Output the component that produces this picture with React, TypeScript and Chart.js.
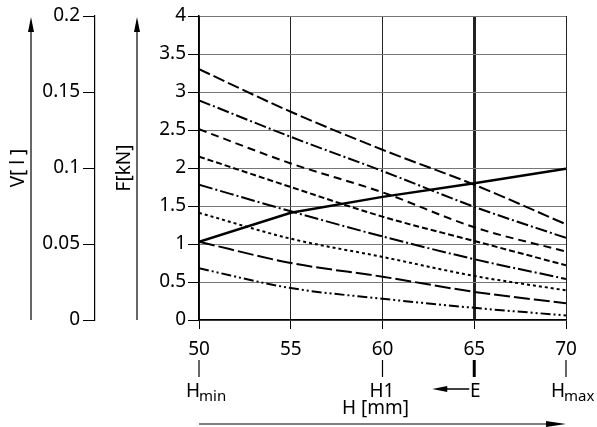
import React, { useEffect, useRef } from "react";
import { Chart, registerables } from "chart.js";

Chart.register(...registerables);

// Stroke H [mm]
const H_MM = [50, 55, 60, 65, 70];

// Force curves F [kN] (top to bottom)
const F_CURVE_1 = [3.3, 2.74, 2.24, 1.78, 1.26];
const F_CURVE_2 = [2.89, 2.41, 1.96, 1.49, 1.08];
const F_CURVE_3 = [2.51, 2.06, 1.68, 1.22, 0.9];
const F_CURVE_4 = [2.15, 1.75, 1.36, 1.04, 0.72];
const F_CURVE_5 = [1.78, 1.43, 1.1, 0.8, 0.54];
const F_CURVE_6 = [1.41, 1.07, 0.83, 0.58, 0.39];
const F_CURVE_7 = [1.03, 0.75, 0.57, 0.37, 0.22];
const F_CURVE_8 = [0.68, 0.42, 0.28, 0.16, 0.06];

// Solid rising line
const F_SOLID = [1.03, 1.41, 1.62, 1.8, 1.99];

// Axis ranges
const F_RANGE = [0, 4];
const V_RANGE = [0, 0.2];
const H_RANGE = [50, 70];

// Marker labels under the H axis
const MARK_VALUES = [50, 60, 65, 70];
const MARK_MAIN = ["H", "H1", "E", "H"];
const MARK_SUB = ["min", "", "", "max"];

const X_TITLE = "H [mm]";
const F_TITLE = "F[kN]";
const V_TITLE = "V[ l ]";

const FONT = '"Noto Sans", "DejaVu Sans", sans-serif';

const CURVES = [F_CURVE_1, F_CURVE_2, F_CURVE_3, F_CURVE_4, F_CURVE_5, F_CURVE_6, F_CURVE_7, F_CURVE_8];
const DASHES: number[][] = [
  [12, 4],
  [12, 3, 2, 3],
  [8, 5],
  [6, 3],
  [14, 3, 2, 3],
  [3, 3],
  [16, 4],
  [10, 3, 2, 3, 2, 3],
];

const fmt = (v: any) => String(Number(Number(v).toFixed(2)));

const extrasPlugin = {
  id: "extras",
  afterDraw(chart: any) {
    const { ctx } = chart;
    const xs = chart.scales.x;
    const ys = chart.scales.y;
    ctx.save();
    ctx.strokeStyle = "#000";
    ctx.fillStyle = "#000";

    // vertical arrows for V and F
    const yb = ys.getPixelForValue(F_RANGE[0]);
    const yt = ys.getPixelForValue(F_RANGE[1]) + 1;
    const upArrow = (x: number) => {
      ctx.lineWidth = 1.2;
      ctx.beginPath();
      ctx.moveTo(x, yb);
      ctx.lineTo(x, yt + 12);
      ctx.stroke();
      ctx.beginPath();
      ctx.moveTo(x, yt);
      ctx.lineTo(x - 3, yt + 15);
      ctx.lineTo(x + 3, yt + 15);
      ctx.closePath();
      ctx.fill();
    };
    upArrow(31);
    upArrow(137);

    // marker ticks and labels
    MARK_VALUES.forEach((v, i) => {
      const x = xs.getPixelForValue(v);
      const main = MARK_MAIN[i];
      ctx.lineWidth = main === "E" ? 3 : 1.2;
      ctx.beginPath();
      ctx.moveTo(x, 360);
      ctx.lineTo(x, 377);
      ctx.stroke();
      ctx.font = `19px ${FONT}`;
      ctx.textBaseline = "alphabetic";
      if (main === "E") {
        ctx.textAlign = "center";
        ctx.fillText(main, x + 1, 397);
        // arrow pointing left from E
        ctx.lineWidth = 1.5;
        ctx.beginPath();
        ctx.moveTo(x - 5, 389);
        ctx.lineTo(x - 28, 389);
        ctx.stroke();
        ctx.beginPath();
        ctx.moveTo(x - 42, 389);
        ctx.lineTo(x - 27, 386);
        ctx.lineTo(x - 27, 392);
        ctx.closePath();
        ctx.fill();
      } else {
        ctx.textAlign = "left";
        const tx = MARK_SUB[i] === "max" ? x - 15 : x - 13;
        ctx.fillText(main, tx, 397);
        const w = ctx.measureText(main).width;
        if (MARK_SUB[i]) {
          ctx.font = `15px ${FONT}`;
          ctx.fillText(MARK_SUB[i], tx + w - 1, 401);
        }
      }
    });

    // axis title H [mm]
    ctx.font = `19px ${FONT}`;
    ctx.textAlign = "center";
    ctx.textBaseline = "alphabetic";
    ctx.fillText(X_TITLE, xs.getPixelForValue(60) - 7, 414);

    // long arrow under H axis
    const xl = xs.getPixelForValue(H_RANGE[0]);
    const xr = xs.getPixelForValue(H_RANGE[1]);
    ctx.lineWidth = 1.2;
    ctx.beginPath();
    ctx.moveTo(xl, 424);
    ctx.lineTo(xr - 15, 424);
    ctx.stroke();
    ctx.beginPath();
    ctx.moveTo(xr, 424);
    ctx.lineTo(xr - 20, 421);
    ctx.lineTo(xr - 20, 427);
    ctx.closePath();
    ctx.fill();

    ctx.restore();
  },
};

export default function App() {
  const ref = useRef<HTMLCanvasElement | null>(null);

  useEffect(() => {
    if (!ref.current) return;
    const datasets: any[] = CURVES.map((c, i) => ({
      label: `F${i + 1}`,
      data: H_MM.map((h, j) => ({ x: h, y: c[j] })),
      borderColor: "#000",
      borderWidth: 2,
      borderDash: DASHES[i],
      pointRadius: 0,
      fill: false,
      cubicInterpolationMode: "monotone",
    }));
    datasets.push({
      label: "solid",
      data: H_MM.map((h, j) => ({ x: h, y: F_SOLID[j] })),
      borderColor: "#000",
      borderWidth: 2.5,
      pointRadius: 0,
      fill: false,
      tension: 0,
    });

    const chart = new Chart(ref.current, {
      type: "line",
      data: { datasets },
      plugins: [extrasPlugin],
      options: {
        animation: false,
        responsive: false,
        maintainAspectRatio: false,
        layout: { padding: { left: 0, right: 31, top: 16, bottom: 0 } },
        plugins: { legend: { display: false }, tooltip: { enabled: false } },
        scales: {
          x: {
            type: "linear",
            position: "bottom",
            min: H_RANGE[0],
            max: H_RANGE[1],
            afterFit: (s: any) => {
              s.height = 107;
            },
            ticks: {
              stepSize: 5,
              color: "#000",
              padding: 9,
              font: { family: FONT, size: 19 },
              callback: fmt,
            },
            grid: {
              color: "#222",
              lineWidth: (c: any) => (c.tick && c.tick.value === 65 ? 3 : 1),
              tickWidth: 1,
              tickLength: 9,
              tickColor: "#000",
            },
            border: { display: true, color: "#000", width: 1.5 },
          },
          y: {
            type: "linear",
            position: "left",
            weight: 0,
            min: F_RANGE[0],
            max: F_RANGE[1],
            afterFit: (s: any) => {
              s.width = 104;
            },
            ticks: {
              stepSize: 0.5,
              color: "#000",
              padding: 2,
              font: { family: FONT, size: 19 },
              callback: fmt,
            },
            grid: {
              color: "#777",
              lineWidth: 1,
              tickLength: 11,
              tickColor: "#000",
            },
            border: { display: true, color: "#000", width: 1.5 },
            title: {
              display: true,
              text: F_TITLE,
              color: "#000",
              font: { family: FONT, size: 19 },
              padding: { top: 18, bottom: 0 },
            },
          },
          v: {
            type: "linear",
            position: "left",
            weight: 10,
            min: V_RANGE[0],
            max: V_RANGE[1],
            afterFit: (s: any) => {
              s.width = 95;
            },
            ticks: {
              stepSize: 0.05,
              color: "#000",
              padding: 3,
              font: { family: FONT, size: 19 },
              callback: fmt,
            },
            grid: {
              drawOnChartArea: false,
              tickLength: 12,
              tickColor: "#000",
            },
            border: { display: true, color: "#000", width: 1.2 },
            title: {
              display: true,
              text: V_TITLE,
              color: "#000",
              font: { family: FONT, size: 19 },
              padding: { top: 7, bottom: 0 },
            },
          },
        },
      } as any,
    });
    return () => chart.destroy();
  }, []);

  return (
    <div style={{ position: "fixed", left: 0, top: 0, width: 597, height: 427, background: "#fff" }}>
      <canvas ref={ref} width={597} height={427} style={{ display: "block", width: 597, height: 427 }} />
    </div>
  );
}
